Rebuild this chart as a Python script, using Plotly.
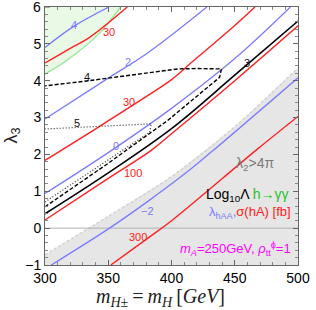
import plotly.graph_objects as go

# ---- data ----
# shaded regions
lam2_x = [300, 350, 400, 450, 500]
lam2_y = [-0.72, 0.32, 1.4, 2.75, 4.35]
hgg_x = [300, 316.8, 342.6, 359.7]
hgg_y = [4.18, 4.54, 5.27, 6.0]

# lambda_hAA contours (blue)
b4_x = [300, 323, 350.5];            b4_y = [4.9, 5.48, 6.0]
b2_x = [300, 350, 381.4, 428];       b2_y = [2.96, 4.07, 4.76, 6.0]
b0_x = [300, 350, 400, 450, 494];    b0_y = [0.94, 2.05, 3.25, 4.6, 6.0]
bm2_x = [305, 351, 381, 414, 433, 500]; bm2_y = [-1, 0, 0.72, 1.57, 2.11, 4.08]

# sigma(hA) contours (red)
r30u_x = [300, 320, 335, 365];       r30u_y = [4.48, 4.88, 5.17, 6.0]
r30l_x = [300, 342.6, 381.4, 400, 416, 450, 466]
r30l_y = [1.84, 2.75, 3.6, 4.03, 4.5, 5.5, 6.0]
r100_x = [300, 350, 384, 400, 450, 500]; r100_y = [0.22, 1.35, 2.11, 2.56, 4.0, 5.49]
r300_x = [352, 381.4, 400.8, 466.7, 500]; r300_y = [-1, -0.27, 0.22, 2.11, 3.03]

# Log10 Lambda contours (black)
k3_x = [300, 350, 400, 450, 500];     k3_y = [0.39, 1.5, 2.7, 4.15, 5.62]
k4_x = [300, 350, 396.9, 438, 439.5, 430, 420, 405, 390, 360, 330, 300]
k4_y = [0.58, 1.76, 2.92, 4.09, 4.32, 4.33, 4.33, 4.32, 4.25, 4.12, 3.98, 3.86]
k5_x = [300, 340, 382.7, 384, 350, 300]
k5_y = [0.71, 1.62, 2.6, 2.83, 2.77, 2.69]

# contour labels: (text, x, y, colour)
lab_text = ["4", "30", "2", "4", "30", "5", "0", "100", "3", "\u22122", "300"]
lab_x = [323.3, 350.4, 365.9, 333.3, 366.7, 325.2, 355.8, 369.8, 459.7, 381.4, 373.6]
lab_y = [5.51, 5.32, 4.51, 4.11, 3.41, 2.85, 2.22, 1.49, 4.49, 0.46, -0.24]
lab_col = ["blue", "red", "blue", "black", "red", "black", "blue", "red", "black", "blue", "red"]

# axis ticks
x_ticks = [300, 350, 400, 450, 500]
y_ticks = [-1, 0, 1, 2, 3, 4, 5, 6]
y_ticklabels = ["\u22121", "0", "1", "2", "3", "4", "5", "6"]

BLUE = "#7b7bff"
RED = "#ff2020"
GREEN = "#8fe88f"
colmap = {"blue": BLUE, "red": RED, "black": "#111111"}
TICKFONT = dict(family="Liberation Sans", size=14, color="black")

fig = go.Figure()

# gray excluded region lambda2 > 4pi
fig.add_trace(go.Scatter(x=lam2_x + [500, 300], y=lam2_y + [-1, -1], fill="toself",
                         fillcolor="#e6e6e6", line=dict(width=0), mode="lines",
                         hoverinfo="skip", showlegend=False))
fig.add_trace(go.Scatter(x=lam2_x, y=lam2_y, mode="lines",
                         line=dict(color="#d2d2d2", width=1.5, dash="3px,2px", shape="spline"),
                         showlegend=False))
# green h->gamma gamma region
fig.add_trace(go.Scatter(x=hgg_x + [300], y=hgg_y + [6], fill="toself",
                         fillcolor="#e9f9e5", line=dict(width=0), mode="lines",
                         showlegend=False))
fig.add_trace(go.Scatter(x=hgg_x, y=hgg_y, mode="lines", line=dict(color=GREEN, width=1.3, shape="spline"),
                         showlegend=False))

# y = 0 line
fig.add_trace(go.Scatter(x=[300, 500], y=[0, 0], mode="lines", line=dict(color="#b0b0b0", width=1),
                         showlegend=False))

for xs, ys in [(b4_x, b4_y), (b2_x, b2_y), (b0_x, b0_y), (bm2_x, bm2_y)]:
    fig.add_trace(go.Scatter(x=xs, y=ys, mode="lines", line=dict(color=BLUE, width=1.3, shape="spline"),
                             showlegend=False))
for xs, ys in [(r30u_x, r30u_y), (r30l_x, r30l_y), (r100_x, r100_y), (r300_x, r300_y)]:
    fig.add_trace(go.Scatter(x=xs, y=ys, mode="lines", line=dict(color=RED, width=1.4, shape="spline"),
                             showlegend=False))
fig.add_trace(go.Scatter(x=k3_x, y=k3_y, mode="lines", line=dict(color="black", width=1.6, shape="spline"),
                         showlegend=False))
fig.add_trace(go.Scatter(x=k4_x, y=k4_y, mode="lines", line=dict(color="black", width=1.4, dash="4px,2px"),
                         showlegend=False))
fig.add_trace(go.Scatter(x=k5_x, y=k5_y, mode="lines", line=dict(color="#333333", width=1.2, dash="1px,2px"),
                         showlegend=False))

for t, x, y, c in zip(lab_text, lab_x, lab_y, lab_col):
    fig.add_annotation(x=x, y=y, text=t, showarrow=False,
                       font=dict(family="Liberation Sans", size=11, color=colmap[c]))

# legend-like texts
fig.add_annotation(x=465.9, y=1.73, text="\u03bb<sub>2</sub>&gt;4\u03c0", showarrow=False,
                   font=dict(family="Liberation Sans", size=14, color="#7a7a7a"))
fig.add_annotation(x=494.5, y=0.9, xanchor="right",
                   text="Log<sub>10</sub>\u039b <span style='color:#22c422'>h\u2192\u03b3\u03b3</span>",
                   showarrow=False, font=dict(family="Liberation Sans", size=14, color="black"))
fig.add_annotation(x=496, y=0.42, xanchor="right",
                   text="<span style='color:#7b7bff'>\u03bb<sub>hAA</sub>,</span><span style='color:#ff2020'>\u03c3(hA) [fb]</span>",
                   showarrow=False, font=dict(family="Liberation Sans", size=13, color=RED))
fig.add_annotation(x=496, y=-0.57, xanchor="right",
                   text="<i>m<sub>A</sub></i>=250GeV, <i>\u03c1</i><sub>tt</sub><sup>\u03d5</sup>=1",
                   showarrow=False, font=dict(family="Liberation Sans", size=13, color="#ff00ff"))

# top y tick label placed as text so it is not dropped at the frame edge
fig.add_annotation(xref="paper", y=6, x=0, xanchor="right", xshift=-2, text=y_ticklabels[-1],
                   showarrow=False, font=TICKFONT)

# axis titles
fig.add_annotation(xref="paper", yref="paper", x=0.455, xanchor="center", y=-0.125, yanchor="middle",
                   text="<i>m</i><sub><i>H</i>\u00b1</sub>\u2009=\u2009<i>m</i><sub><i>H</i></sub>\u2009[<i>GeV</i>]",
                   showarrow=False, font=dict(family="Liberation Serif", size=20, color="#222222"))
fig.add_annotation(xref="paper", yref="paper", x=-0.132, xanchor="center", y=0.5, yanchor="middle",
                   textangle=-90, text="\u03bb<sub>3</sub>", showarrow=False,
                   font=dict(family="Liberation Sans", size=18, color="#222222"))

axis_common = dict(showgrid=False, zeroline=False, showline=True, linecolor="#666666", linewidth=1,
                   mirror="ticks", ticks="inside", tickcolor="#666666", ticklen=5, tickfont=TICKFONT)
fig.update_xaxes(range=[300, 500], tickvals=x_ticks,
                 minor=dict(ticks="inside", dtick=10, ticklen=3, tickcolor="#888888"), **axis_common)
fig.update_yaxes(range=[-1, 6], tickvals=y_ticks[:-1], ticktext=y_ticklabels[:-1],
                 minor=dict(ticks="inside", dtick=0.2, ticklen=3, tickcolor="#888888"), **axis_common)
fig.add_shape(type="line", xref="paper", x0=0, x1=0.02, y0=6, y1=6, line=dict(color="#666666", width=1))

fig.update_layout(width=316, height=310, margin=dict(l=45, r=13, t=6, b=45),
                  plot_bgcolor="white", paper_bgcolor="white", showlegend=False)

fig.write_html("out.html", config={"displayModeBar": False},
               post_script="document.body.style.margin='0px';document.body.style.overflow='hidden';")
